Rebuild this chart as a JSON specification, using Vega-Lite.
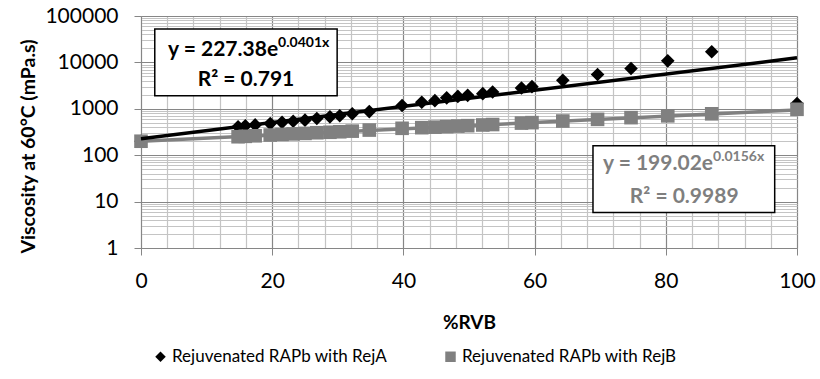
{
  "$schema": "https://vega.github.io/schema/vega-lite/v6.json",
  "width": 656,
  "height": 232,
  "autosize": {"type": "none"},
  "padding": {"left": 141, "top": 16, "right": 23, "bottom": 131},
  "background": "white",
  "config": {
    "view": {"stroke": null},
    "font": "Lato",
    "axis": {"labelFont": "Lato", "titleFont": "Lato", "labelColor": "#000000", "titleColor": "#000000"},
    "legend": {"labelFont": "Lato"}
  },
  "datasets": {
    "points": [
      {"series": "Rejuvenated RAPb with RejA", "pct": 0, "viscosity": 200},
      {"series": "Rejuvenated RAPb with RejA", "pct": 14.8, "viscosity": 410},
      {"series": "Rejuvenated RAPb with RejA", "pct": 15.9, "viscosity": 430},
      {"series": "Rejuvenated RAPb with RejA", "pct": 17.4, "viscosity": 450},
      {"series": "Rejuvenated RAPb with RejA", "pct": 19.7, "viscosity": 480},
      {"series": "Rejuvenated RAPb with RejA", "pct": 21.5, "viscosity": 510},
      {"series": "Rejuvenated RAPb with RejA", "pct": 23.2, "viscosity": 540},
      {"series": "Rejuvenated RAPb with RejA", "pct": 25.0, "viscosity": 570},
      {"series": "Rejuvenated RAPb with RejA", "pct": 26.8, "viscosity": 620},
      {"series": "Rejuvenated RAPb with RejA", "pct": 28.8, "viscosity": 670},
      {"series": "Rejuvenated RAPb with RejA", "pct": 30.3, "viscosity": 710},
      {"series": "Rejuvenated RAPb with RejA", "pct": 32.2, "viscosity": 780},
      {"series": "Rejuvenated RAPb with RejA", "pct": 34.8, "viscosity": 870},
      {"series": "Rejuvenated RAPb with RejA", "pct": 39.8, "viscosity": 1180},
      {"series": "Rejuvenated RAPb with RejA", "pct": 42.8, "viscosity": 1380},
      {"series": "Rejuvenated RAPb with RejA", "pct": 44.8, "viscosity": 1500},
      {"series": "Rejuvenated RAPb with RejA", "pct": 46.6, "viscosity": 1720},
      {"series": "Rejuvenated RAPb with RejA", "pct": 48.3, "viscosity": 1850},
      {"series": "Rejuvenated RAPb with RejA", "pct": 49.8, "viscosity": 1950},
      {"series": "Rejuvenated RAPb with RejA", "pct": 52.1, "viscosity": 2120},
      {"series": "Rejuvenated RAPb with RejA", "pct": 53.6, "viscosity": 2300},
      {"series": "Rejuvenated RAPb with RejA", "pct": 58.0, "viscosity": 2800},
      {"series": "Rejuvenated RAPb with RejA", "pct": 59.6, "viscosity": 3000},
      {"series": "Rejuvenated RAPb with RejA", "pct": 64.3, "viscosity": 4100},
      {"series": "Rejuvenated RAPb with RejA", "pct": 69.6, "viscosity": 5500},
      {"series": "Rejuvenated RAPb with RejA", "pct": 74.7, "viscosity": 7400},
      {"series": "Rejuvenated RAPb with RejA", "pct": 80.3, "viscosity": 10800},
      {"series": "Rejuvenated RAPb with RejA", "pct": 87.0, "viscosity": 17000},
      {"series": "Rejuvenated RAPb with RejA", "pct": 100, "viscosity": 1300},
      {"series": "Rejuvenated RAPb with RejB", "pct": 0, "viscosity": 200},
      {"series": "Rejuvenated RAPb with RejB", "pct": 14.8, "viscosity": 250},
      {"series": "Rejuvenated RAPb with RejB", "pct": 15.9, "viscosity": 255},
      {"series": "Rejuvenated RAPb with RejB", "pct": 17.4, "viscosity": 262},
      {"series": "Rejuvenated RAPb with RejB", "pct": 19.7, "viscosity": 272},
      {"series": "Rejuvenated RAPb with RejB", "pct": 21.5, "viscosity": 280},
      {"series": "Rejuvenated RAPb with RejB", "pct": 23.2, "viscosity": 288},
      {"series": "Rejuvenated RAPb with RejB", "pct": 25.0, "viscosity": 295},
      {"series": "Rejuvenated RAPb with RejB", "pct": 26.8, "viscosity": 305},
      {"series": "Rejuvenated RAPb with RejB", "pct": 28.8, "viscosity": 312},
      {"series": "Rejuvenated RAPb with RejB", "pct": 30.3, "viscosity": 320},
      {"series": "Rejuvenated RAPb with RejB", "pct": 32.2, "viscosity": 330},
      {"series": "Rejuvenated RAPb with RejB", "pct": 34.8, "viscosity": 348},
      {"series": "Rejuvenated RAPb with RejB", "pct": 39.8, "viscosity": 380},
      {"series": "Rejuvenated RAPb with RejB", "pct": 42.8, "viscosity": 392},
      {"series": "Rejuvenated RAPb with RejB", "pct": 44.8, "viscosity": 402},
      {"series": "Rejuvenated RAPb with RejB", "pct": 46.6, "viscosity": 413},
      {"series": "Rejuvenated RAPb with RejB", "pct": 48.3, "viscosity": 424},
      {"series": "Rejuvenated RAPb with RejB", "pct": 49.8, "viscosity": 433},
      {"series": "Rejuvenated RAPb with RejB", "pct": 52.1, "viscosity": 448},
      {"series": "Rejuvenated RAPb with RejB", "pct": 53.6, "viscosity": 458},
      {"series": "Rejuvenated RAPb with RejB", "pct": 58.0, "viscosity": 492},
      {"series": "Rejuvenated RAPb with RejB", "pct": 59.6, "viscosity": 503},
      {"series": "Rejuvenated RAPb with RejB", "pct": 64.3, "viscosity": 545},
      {"series": "Rejuvenated RAPb with RejB", "pct": 69.6, "viscosity": 592},
      {"series": "Rejuvenated RAPb with RejB", "pct": 74.7, "viscosity": 645},
      {"series": "Rejuvenated RAPb with RejB", "pct": 80.3, "viscosity": 705},
      {"series": "Rejuvenated RAPb with RejB", "pct": 87.0, "viscosity": 780},
      {"series": "Rejuvenated RAPb with RejB", "pct": 100, "viscosity": 975}
    ],
    "trend": [
      {"fit": "A", "pct": 0, "viscosity": 227.38},
      {"fit": "A", "pct": 100, "viscosity": 12540},
      {"fit": "B", "pct": 0, "viscosity": 199.02},
      {"fit": "B", "pct": 100, "viscosity": 947.6}
    ],
    "one": [{}]
  },
  "layer": [
    {
      "data": {"name": "points"},
      "mark": {"type": "point", "filled": true, "opacity": 1, "size": 185},
      "encoding": {
        "x": {
          "field": "pct", "type": "quantitative",
          "scale": {"domain": [0, 100], "nice": false, "zero": false},
          "axis": {
            "title": "%RVB",
            "titleFontSize": 19, "titleFontWeight": "bold",
            "titleY": 74, "titleBaseline": "middle",
            "values": [0,4,8,12,16,20,24,28,32,36,40,44,48,52,56,60,64,68,72,76,80,84,88,92,96,100],
            "tickCount": 200,
            "labelExpr": "indexof([0,20,40,60,80,100], datum.value) >= 0 ? format(datum.value, 'd') : ''",
            "labelOverlap": false, "labelBound": false, "labelFlush": false,
            "labelFontSize": 21, "labelPadding": 15,
            "tickSize": 7, "tickColor": "#868686",
            "tickOpacity": {"condition": {"test": "indexof([0,20,40,60,80,100], datum.value) >= 0", "value": 1}, "value": 0},
            "domainColor": "#868686", "domainWidth": 1,
            "grid": true,
            "gridColor": {"condition": {"test": "indexof([0,20,40,60,80,100], datum.value) >= 0", "value": "#868686"}, "value": "#c4c4c4"},
            "gridWidth": 1.2
          }
        },
        "y": {
          "field": "viscosity", "type": "quantitative",
          "scale": {"type": "log", "domain": [1, 100000], "nice": false},
          "axis": {
            "title": "Viscosity at 60°C (mPa.s)",
            "titleFontSize": 19.5, "titleFontWeight": "bold",
            "titleX": -113, "titleY": 130, "titleAngle": -90, "titleBaseline": "middle", "titleAlign": "center",
            "values": [1,2,3,4,5,6,7,8,9,10,20,30,40,50,60,70,80,90,100,200,300,400,500,600,700,800,900,1000,2000,3000,4000,5000,6000,7000,8000,9000,10000,20000,30000,40000,50000,60000,70000,80000,90000,100000],
            "tickCount": 200,
            "labelExpr": "indexof([1,10,100,1000,10000,100000], datum.value) >= 0 ? format(datum.value, 'd') : ''",
            "labelOverlap": false, "labelBound": false, "labelFlush": false,
            "labelFontSize": 21, "labelPadding": 16,
            "tickSize": 7, "tickColor": "#868686",
            "tickOpacity": {"condition": {"test": "indexof([1,10,100,1000,10000,100000], datum.value) >= 0", "value": 1}, "value": 0},
            "domainColor": "#868686", "domainWidth": 1,
            "grid": true,
            "gridColor": {"condition": {"test": "indexof([1,10,100,1000,10000,100000], datum.value) >= 0", "value": "#868686"}, "value": "#c4c4c4"},
            "gridWidth": 1.2
          }
        },
        "color": {
          "field": "series", "type": "nominal",
          "scale": {"domain": ["Rejuvenated RAPb with RejA", "Rejuvenated RAPb with RejB"], "range": ["#000000", "#808080"]},
          "legend": {
            "orient": "none", "legendX": 11, "legendY": 332, "direction": "horizontal", "title": null,
            "labelFontSize": 17, "labelColor": "#000000", "symbolSize": 110, "labelOffset": 3, "columnPadding": 54,
            "symbolStrokeWidth": 0, "labelLimit": 0
          }
        },
        "shape": {
          "field": "series", "type": "nominal",
          "scale": {"domain": ["Rejuvenated RAPb with RejA", "Rejuvenated RAPb with RejB"], "range": ["diamond", "square"]},
          "legend": {
            "orient": "none", "legendX": 11, "legendY": 332, "direction": "horizontal", "title": null,
            "labelFontSize": 17, "labelColor": "#000000", "symbolSize": 110, "labelOffset": 3, "columnPadding": 54,
            "symbolStrokeWidth": 0, "labelLimit": 0
          }
        }
      }
    },
    {
      "data": {"name": "trend"},
      "transform": [{"filter": "datum.fit === 'B'"}],
      "mark": {"type": "line", "color": "#808080", "strokeWidth": 3.5},
      "encoding": {
        "x": {"field": "pct", "type": "quantitative"},
        "y": {"field": "viscosity", "type": "quantitative"}
      }
    },
    {
      "data": {"name": "trend"},
      "transform": [{"filter": "datum.fit === 'A'"}],
      "mark": {"type": "line", "color": "#000000", "strokeWidth": 3.5},
      "encoding": {
        "x": {"field": "pct", "type": "quantitative"},
        "y": {"field": "viscosity", "type": "quantitative"}
      }
    },
    {
      "data": {"name": "one"},
      "mark": {"type": "rect", "fill": "white", "stroke": "#000000", "strokeWidth": 1.5},
      "encoding": {
        "x": {"datum": 2.1}, "x2": {"datum": 29.9},
        "y": {"datum": 52500}, "y2": {"datum": 1904}
      }
    },
    {
      "data": {"name": "one"},
      "mark": {"type": "rect", "fill": "white", "stroke": "#000000", "strokeWidth": 1.5},
      "encoding": {
        "x": {"datum": 68.9}, "x2": {"datum": 96.6},
        "y": {"datum": 160}, "y2": {"datum": 5.8}
      }
    },
    {
      "data": {"name": "one"},
      "mark": {"type": "text", "text": "y = 227.38e", "align": "right", "baseline": "alphabetic", "fontSize": 21, "fontWeight": "bold", "color": "#000000"},
      "encoding": {"x": {"datum": 20.9}, "y": {"datum": 13800}}
    },
    {
      "data": {"name": "one"},
      "mark": {"type": "text", "text": "0.0401x", "align": "left", "baseline": "alphabetic", "fontSize": 14, "fontWeight": "bold", "color": "#000000", "dy": -9},
      "encoding": {"x": {"datum": 20.9}, "y": {"datum": 13800}}
    },
    {
      "data": {"name": "one"},
      "mark": {"type": "text", "text": "R² = 0.791", "align": "center", "baseline": "alphabetic", "fontSize": 21, "fontWeight": "bold", "color": "#000000"},
      "encoding": {"x": {"datum": 16.0}, "y": {"datum": 3125}}
    },
    {
      "data": {"name": "one"},
      "mark": {"type": "text", "text": "y = 199.02e", "align": "right", "baseline": "alphabetic", "fontSize": 21, "fontWeight": "bold", "color": "#7f7f7f"},
      "encoding": {"x": {"datum": 87.2}, "y": {"datum": 48.8}}
    },
    {
      "data": {"name": "one"},
      "mark": {"type": "text", "text": "0.0156x", "align": "left", "baseline": "alphabetic", "fontSize": 14, "fontWeight": "bold", "color": "#7f7f7f", "dy": -9},
      "encoding": {"x": {"datum": 87.2}, "y": {"datum": 48.8}}
    },
    {
      "data": {"name": "one"},
      "mark": {"type": "text", "text": "R² = 0.9989", "align": "center", "baseline": "alphabetic", "fontSize": 21, "fontWeight": "bold", "color": "#7f7f7f"},
      "encoding": {"x": {"datum": 82.8}, "y": {"datum": 9.5}}
    }
  ]
}
